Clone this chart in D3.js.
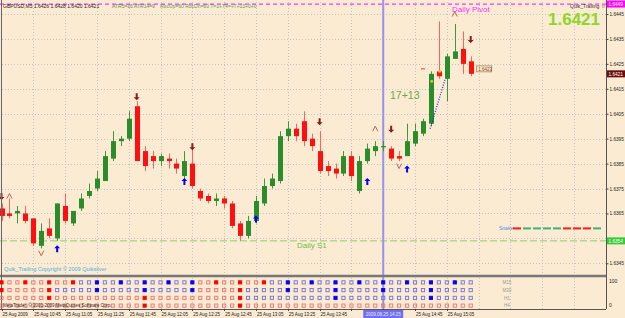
<!DOCTYPE html>
<html><head><meta charset="utf-8">
<script src="https://cdn.jsdelivr.net/npm/d3@7"></script>
<style>body{margin:0;background:#faebd2;}svg{display:block;font-family:"Liberation Sans",Arial,sans-serif;}</style>
</head><body>
<svg id="c" width="625" height="318"></svg>
<script>
// ---- data ----
const opens  = [1.6367,1.6365,1.6365,1.6365,1.6363,1.6352,1.6359,1.6355,1.6368,1.6361,1.6367,1.6372,1.6375,1.6378,1.6387,1.6394,1.6395,1.6408,1.6390,1.6388,1.6386,1.6387,1.6385,1.6380,1.6385,1.6374,1.6372,1.6370,1.6371,1.6369,1.6361,1.6356,1.6362,1.6369,1.6376,1.6378,1.6396,1.6399,1.6402,1.6395,1.6390,1.6384,1.6383,1.6381,1.6388,1.6374,1.6386,1.6390,1.6392,1.6391,1.6388,1.6388,1.6393,1.6397,1.6401,1.6422,1.6419,1.6427,1.6431,1.6426];
const highs  = [1.6369,1.6371,1.6368,1.6368,1.6363,1.6361,1.6363,1.6369,1.6373,1.6366,1.6373,1.6377,1.6382,1.6390,1.6398,1.6396,1.6406,1.6410,1.6392,1.6390,1.6389,1.6389,1.6387,1.6390,1.6393,1.6375,1.6373,1.6373,1.6372,1.6370,1.6362,1.6364,1.6372,1.6379,1.6381,1.6398,1.6402,1.6401,1.6406,1.6397,1.6398,1.6386,1.6385,1.6390,1.6390,1.6388,1.6393,1.6394,1.6394,1.6392,1.6390,1.6401,1.6401,1.6403,1.6422,1.6442,1.6429,1.6441,1.6438,1.6428];
const lows   = [1.6362,1.6363,1.6361,1.6361,1.6352,1.6351,1.6355,1.6354,1.6361,1.6360,1.6366,1.6371,1.6374,1.6378,1.6386,1.6392,1.6394,1.6386,1.6382,1.6383,1.6384,1.6383,1.6381,1.6378,1.6375,1.6370,1.6369,1.6368,1.6367,1.6359,1.6354,1.6355,1.6361,1.6368,1.6375,1.6377,1.6394,1.6394,1.6392,1.6390,1.6381,1.6380,1.6379,1.6380,1.6378,1.6373,1.6385,1.6388,1.6390,1.6386,1.6386,1.6388,1.6392,1.6396,1.6400,1.6419,1.6410,1.6427,1.6421,1.6420];
const closes = [1.6364,1.6364,1.6366,1.6362,1.6353,1.6358,1.6356,1.6369,1.6362,1.6366,1.6371,1.6374,1.6379,1.6388,1.6394,1.6395,1.6403,1.6386,1.6384,1.6386,1.6388,1.6386,1.6383,1.6386,1.6376,1.6371,1.6370,1.6371,1.6369,1.6360,1.6356,1.6362,1.6370,1.6376,1.6379,1.6396,1.6399,1.6396,1.6394,1.6392,1.6382,1.6382,1.6381,1.6388,1.6380,1.6386,1.6391,1.6392,1.6392,1.6387,1.6387,1.6394,1.6398,1.6402,1.6421,1.6420,1.6428,1.6430,1.6425,1.6421];

const priceTicks = [1.6445,1.6435,1.6425,1.6415,1.6405,1.6395,1.6385,1.6375,1.6365,1.6355,1.6345];
const timeLabelBars = [0,4,8,12,16,20,24,28,32,36,40,52,56];
const timeLabels = ["25 Aug 2009","25 Aug 10:45","25 Aug 11:05","25 Aug 11:25","25 Aug 11:45","25 Aug 12:05","25 Aug 12:25","25 Aug 12:45","25 Aug 13:05","25 Aug 13:25","25 Aug 13:45","25 Aug 14:45","25 Aug 15:05"];
const cursorBar = 48, cursorLabel = "2009.08.25 14:25";

const dailyPivot = 1.6449, dailyS1 = 1.6354, lastPrice = 1.6421, trailPrice = 1.6423, snakePrice = 1.6359;

const downArrowBars = [0,17,24,40,49,59];
const downArrowPrices = [1.6372,1.6412,1.6392,1.6402,1.6399,1.6435];
const upArrowBars = [7,23,32,46,51];
const upArrowPrices = [1.6351,1.6378,1.6363,1.6378,1.6383];
const fractalUpBars = [1,47,57];
const fractalUpPrices = [1.6372,1.6399,1.6445];
const fractalDnBars = [5,50];
const fractalDnPrices = [1.6349,1.6384];

// MTF squares: r/b = red/blue hollow, R/B = filled
const rowNames = ["M15","M30","H1","H4"];
const rowM15 = "RrrRrrRrrRbbBbbBbbBbbBbbBrrRrrRrrRbbBbbBbbBbbBbbBbbBbbBbbBbb".split("");
const rowM30 = "RrrrrrRbbbbbBbbbbbBbbbbbBrrrrrRbbbbbBbbbbbBbbbbbBbbbbbBbbbbb".split("");
const rowH1  = "rrrrrrRrrrrrrrrrrrRrrrrrrrrrrrRbbbbbbbbbbbBbbbbbbbbbbbBbbbbb".split("");
const rowH4  = "rrrrrrrrrrrrrrrrrrRrrrrrrrrrrrRrrrrrrrrrrrrrrrrrrrrrrrrrrrrr".split("");
const snakeColors = ["r","g","g","g","g","r","r","r","g"];

// ---- drawing ----
const svg = d3.select("#c");
const W = 625, H = 318;
const axisX = 606, chartBottom = 276, panelBottom = 309;
const x = d3.scaleLinear().domain([0,59]).range([1.5,470.7]);
const y = d3.scaleLinear().domain([1.6345,1.6445]).range([263.3,14]);
const pRow = d3.scaleBand().domain(rowNames).range([278.5,309.5]);

svg.append("rect").attr("width",W).attr("height",H).attr("fill","#faebd2");

// grid
const grid = svg.append("g").attr("stroke","#c4c4c8").attr("stroke-dasharray","1,2").attr("stroke-width",1);
priceTicks.forEach(p=>grid.append("line").attr("x1",2).attr("x2",axisX).attr("y1",Math.round(y(p))+0.5).attr("y2",Math.round(y(p))+0.5));
const gridBars = d3.range(4,76,4);
gridBars.forEach(b=>{ if(x(b)<axisX) grid.append("line").attr("x1",Math.round(x(b))+0.5).attr("x2",Math.round(x(b))+0.5).attr("y1",2).attr("y2",panelBottom);});

// Daily pivot line
svg.append("line").attr("x1",0).attr("x2",axisX).attr("y1",y(dailyPivot)).attr("y2",y(dailyPivot))
  .attr("stroke","#ff33ff").attr("stroke-width",1.2).attr("stroke-dasharray","4,3");
// Daily S1 line
svg.append("line").attr("x1",0).attr("x2",axisX).attr("y1",y(dailyS1)).attr("y2",y(dailyS1))
  .attr("stroke","#8fd16a").attr("stroke-width",1).attr("stroke-dasharray","7,3");

// cursor vertical line
svg.append("line").attr("x1",x(cursorBar)).attr("x2",x(cursorBar)).attr("y1",0).attr("y2",panelBottom)
  .attr("stroke","#9494ee").attr("stroke-width",2);

// candles
const idx = d3.range(opens.length);
const cg = svg.append("g");
idx.forEach(i=>{
  const up = closes[i]>=opens[i];
  const col = up ? "#2a8c2a" : "#ff1010";
  const xc = Math.round(x(i))+0.5;
  cg.append("line").attr("x1",xc).attr("x2",xc).attr("y1",y(highs[i])).attr("y2",y(lows[i])).attr("stroke",up?"#3a9a3a":"#ff6060").attr("stroke-width",1);
  const t = y(Math.max(opens[i],closes[i])), b = y(Math.min(opens[i],closes[i]));
  cg.append("rect").attr("x",xc-2.5).attr("y",t).attr("width",5).attr("height",Math.max(1.2,b-t)).attr("fill",col);
});

// arrows
function arrow(g, cx, cy, dir, col){
  const s = dir;
  g.append("path").attr("d",`M${cx},${cy} L${cx-3},${cy+3*s} L${cx-1},${cy+3*s} L${cx-1},${cy+7*s} L${cx+1},${cy+7*s} L${cx+1},${cy+3*s} L${cx+3},${cy+3*s} Z`).attr("fill",col);
}
const ag = svg.append("g");
downArrowBars.forEach((b,k)=>arrow(ag, x(b), y(downArrowPrices[k])+4, -1, "#8b1a1a"));
upArrowBars.forEach((b,k)=>arrow(ag, x(b), y(upArrowPrices[k])-3, 1, "#0000ff"));
fractalUpBars.forEach((b,k)=>{const cx=x(b),cy=y(fractalUpPrices[k]);
  ag.append("path").attr("d",`M${cx-2.5},${cy+2.5} L${cx},${cy-2.5} L${cx+2.5},${cy+2.5}`).attr("fill","none").attr("stroke","#c06060").attr("stroke-width",1);});
fractalDnBars.forEach((b,k)=>{const cx=x(b),cy=y(fractalDnPrices[k]);
  ag.append("path").attr("d",`M${cx-2.5},${cy-2.5} L${cx},${cy+2.5} L${cx+2.5},${cy-2.5}`).attr("fill","none").attr("stroke","#c06060").attr("stroke-width",1);});

// trailing dotted line and markers
svg.append("line").attr("x1",x(53.9)).attr("y1",y(1.6399)).attr("x2",x(55.8)).attr("y2",y(1.6419))
  .attr("stroke","#2020ff").attr("stroke-width",1.2).attr("stroke-dasharray","1,1.5");
svg.append("circle").attr("cx",x(54.1)).attr("cy",y(1.6418)).attr("r",1.5).attr("fill","#d8c040");
svg.append("circle").attr("cx",x(55.1)).attr("cy",y(1.6422)).attr("r",1.5).attr("fill","#d8c040");
svg.append("line").attr("x1",x(53)-2).attr("x2",x(53)+2).attr("y1",y(1.6423)).attr("y2",y(1.6423)).attr("stroke","#ff3030").attr("stroke-width",1);
svg.append("text").attr("x",390).attr("y",y(1.6411)).attr("font-size",10.5).attr("fill","#6aa84f").text("17+13");

// trailing price label
const tl = svg.append("g");
tl.append("rect").attr("x",x(59)+6).attr("y",y(trailPrice)-3).attr("width",15).attr("height",6).attr("fill","#faebd2").attr("stroke","#b08060").attr("stroke-width",0.8);
tl.append("text").attr("x",x(59)+7.5).attr("y",y(trailPrice)+2).attr("font-size",4.5).attr("fill","#804020").text(trailPrice.toFixed(4));

// snake
const sg = svg.append("g");
svg.append("text").attr("x",499).attr("y",y(snakePrice)+2).attr("font-size",5).attr("fill","#4a90d9").text("Snake");
snakeColors.forEach((c,k)=>sg.append("line").attr("x1",513+k*10).attr("x2",521+k*10).attr("y1",y(snakePrice)).attr("y2",y(snakePrice))
  .attr("stroke",c==="r"?"#ff1a1a":"#3cb07a").attr("stroke-width",2));

// texts
svg.append("text").attr("x",452).attr("y",12).attr("font-size",8).attr("fill","#ff33ff").text("Daily Pivot");
svg.append("text").attr("x",297).attr("y",248).attr("font-size",8).attr("fill","#6cc04a").text("Daily S1");
svg.append("text").attr("x",548).attr("y",25).attr("font-size",17).attr("font-weight","bold").attr("fill","#8fd62a").text(lastPrice.toFixed(4));
svg.append("text").attr("x",570).attr("y",8).attr("font-size",5).attr("fill","#333").text("Quik_Trailing ☺");
svg.append("text").attr("x",3).attr("y",8).attr("font-size",5).attr("fill","#222").text("GBPUSD,M5  1.6426 1.6428 1.6420 1.6421");
svg.append("text").attr("x",112).attr("y",8).attr("font-size",5).attr("fill","#5a8a5a").text("ATR5=16  ATR14=9");
svg.append("text").attr("x",160).attr("y",8).attr("font-size",5).attr("fill","#5a9a5a").text("RocUp=60  RocDn=60  T=1+T4=+T+13+0+0");
svg.append("text").attr("x",4).attr("y",271).attr("font-size",5.5).attr("fill","#4ab0e0").text("Quik_Trailing   Copyright © 2009   Quiksilver");

// frame
svg.append("line").attr("x1",axisX+0.5).attr("x2",axisX+0.5).attr("y1",0).attr("y2",panelBottom).attr("stroke","#555").attr("stroke-width",1);
svg.append("line").attr("x1",0).attr("x2",axisX).attr("y1",chartBottom).attr("y2",chartBottom).attr("stroke","#777").attr("stroke-width",2.5);
svg.append("line").attr("x1",0).attr("x2",axisX).attr("y1",panelBottom+0.5).attr("y2",panelBottom+0.5).attr("stroke","#555").attr("stroke-width",1);
svg.append("line").attr("x1",1.5).attr("x2",1.5).attr("y1",0).attr("y2",panelBottom).attr("stroke","#666").attr("stroke-width",1);

// price axis
const ax = svg.append("g").attr("transform",`translate(${axisX+0.5},0)`)
  .call(d3.axisRight(y).tickValues(priceTicks.filter(p=>p!==1.6355)).tickFormat(d3.format(".4f")).tickSize(2).tickPadding(1));
ax.select(".domain").remove();
ax.selectAll("text").attr("font-size",4.7).attr("fill","#222").attr("font-family","Liberation Sans,Arial");
ax.selectAll("line").attr("stroke","#444");

function priceBox(p, fill, tc){
  const g = svg.append("g");
  g.append("rect").attr("x",axisX+1).attr("y",y(p)-3.5).attr("width",18).attr("height",7).attr("fill",fill);
  g.append("text").attr("x",axisX+2.5).attr("y",y(p)+1.8).attr("font-size",4.7).attr("fill",tc).text(p.toFixed(4));
}
priceBox(dailyPivot,"#ff00ff","#fff");
priceBox(lastPrice,"#6b0d0d","#fff");
priceBox(dailyS1,"#32cd32","#fff");

// MTF panel
const rows = [rowM15,rowM30,rowH1,rowH4];
const pg = svg.append("g");
rows.forEach((r,ri)=>{
  const cy = pRow(rowNames[ri]) + pRow.bandwidth()/2;
  r.forEach((c,i)=>{
    const filled = c===c.toUpperCase();
    const red = c.toLowerCase()==="r";
    const col = red ? (filled?"#ff0000":"#f07070") : (filled?"#0000ff":"#7070e0");
    pg.append("rect").attr("x",x(i)-1.6).attr("y",cy-1.6).attr("width",3.2).attr("height",3.2)
      .attr("fill",filled?col:"none").attr("stroke",col).attr("stroke-width",0.9);
  });
  pg.append("text").attr("x",507).attr("y",cy+1.8).attr("font-size",4.5).attr("text-anchor","middle").attr("fill","#999").text(rowNames[ri]);
});
svg.append("text").attr("x",axisX+3).attr("y",283).attr("font-size",5).attr("fill","#222").text("100");
svg.append("text").attr("x",axisX+3).attr("y",307).attr("font-size",5).attr("fill","#222").text("0");
svg.append("text").attr("x",3).attr("y",307).attr("font-size",4.5).attr("fill","#333").text("MetaTrader, © 2001-2009 MetaQuotes Software Corp.");

// time axis
const tg = svg.append("g");
d3.range(0,60,4).forEach(b=>tg.append("line").attr("x1",Math.round(x(b))+0.5).attr("x2",Math.round(x(b))+0.5).attr("y1",panelBottom).attr("y2",panelBottom+2).attr("stroke","#444"));
timeLabelBars.forEach((b,k)=>{
  tg.append("text").attr("x",x(b)+1).attr("y",316).attr("font-size",4.5).attr("fill","#222").text(timeLabels[k]);
});
tg.append("rect").attr("x",x(cursorBar)-20).attr("y",310).attr("width",40).attr("height",8).attr("fill","#6f6ff0");
tg.append("text").attr("x",x(cursorBar)).attr("y",316).attr("font-size",4.5).attr("text-anchor","middle").attr("fill","#e8e8ff").text(cursorLabel);
</script>
</body></html>
